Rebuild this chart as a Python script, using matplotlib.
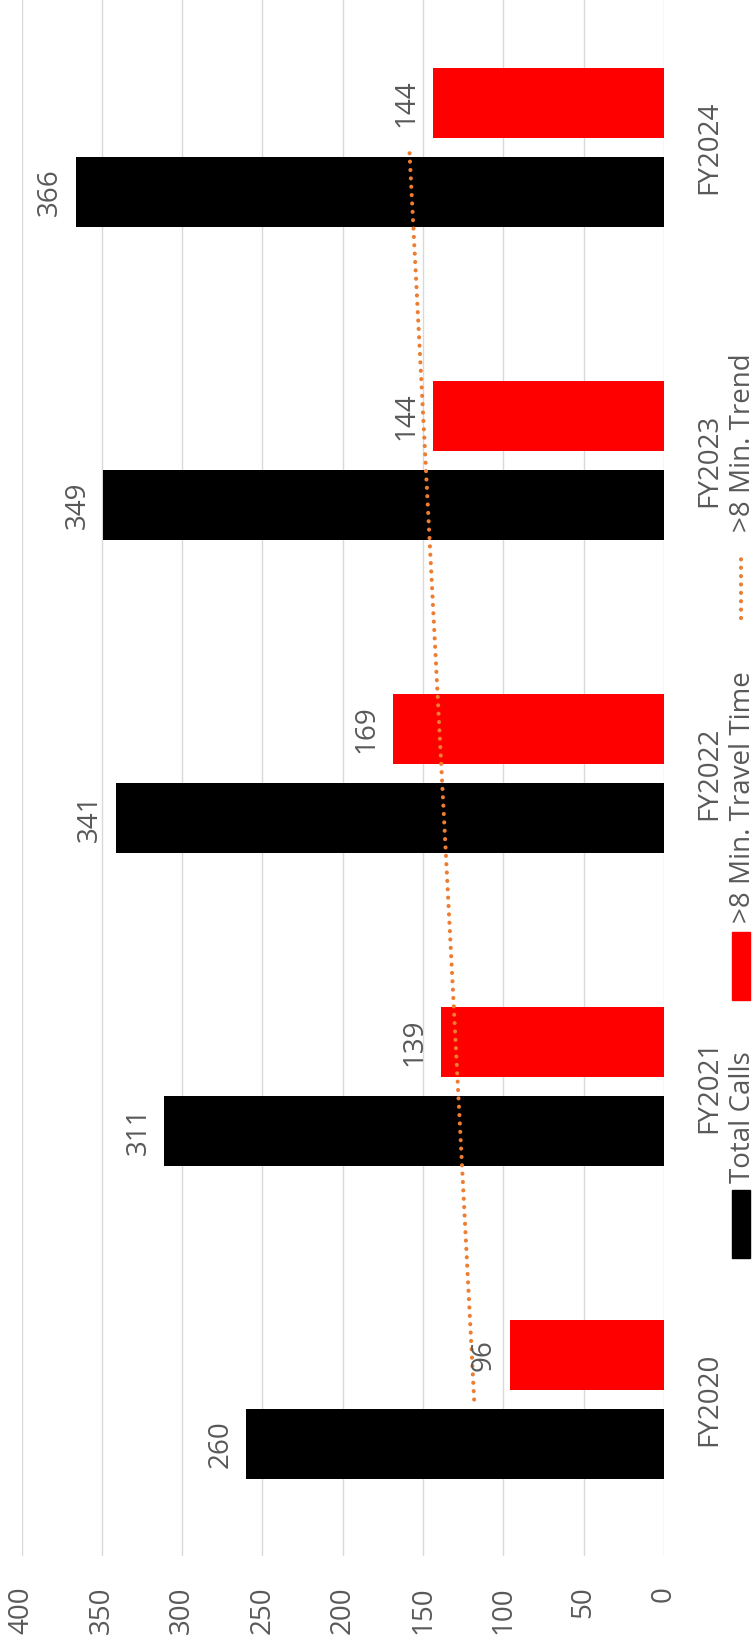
import numpy as np
import matplotlib
matplotlib.use("Agg")
import matplotlib.pyplot as plt
from matplotlib.patches import Rectangle
from matplotlib.lines import Line2D

plt.rcParams['font.family'] = ['Open Sans', 'DejaVu Sans']

# Data
years = ["FY2020", "FY2021", "FY2022", "FY2023", "FY2024"]
total_calls = [260, 311, 341, 349, 366]
over_8_min = [96, 139, 169, 144, 144]
value_ticks = [0, 50, 100, 150, 200, 250, 300, 350, 400]

series_names = ["Total Calls", ">8 Min. Travel Time", ">8 Min. Trend"]
black = "#000000"
red = "#FF0000"
orange = "#ED7D31"
text_gray = "#595959"
grid_gray = "#D9D9D9"
FS = 20
DOTS = (0, (0.01, 2.0))

W, H = 754, 1647
fig = plt.figure(figsize=(W / 100, H / 100), dpi=100)

# plot area in pixels (left, top, right, bottom measured from the top-left)
left_px, right_px, top_px, bottom_px = 21.5, 664, -9, 1556
ax = fig.add_axes([left_px / W, 1 - bottom_px / H,
                   (right_px - left_px) / W, (bottom_px - top_px) / H])

pos = np.arange(len(years))
bar_h = 0.2236
off = 0.142

ax.barh(pos - off, total_calls, height=bar_h, color=black, zorder=2)
ax.barh(pos + off, over_8_min, height=bar_h, color=red, zorder=2)

# linear trend of the >8 min series
coef = np.polyfit(pos, over_8_min, 1)
trend = np.polyval(coef, pos)
ax.plot(trend, pos, color=orange, lw=3.0, linestyle=DOTS,
        dash_capstyle='round', zorder=3)

# value labels beyond the bar ends
for p, v in zip(pos - off, total_calls):
    ax.annotate(str(v), xy=(v, p), xytext=(-19, 0), textcoords='offset pixels',
                rotation=90, rotation_mode='anchor', ha='center', va='baseline',
                fontsize=FS, color=text_gray, zorder=4)
for p, v in zip(pos + off, over_8_min):
    ax.annotate(str(v), xy=(v, p), xytext=(-19, 0), textcoords='offset pixels',
                rotation=90, rotation_mode='anchor', ha='center', va='baseline',
                fontsize=FS, color=text_gray, zorder=4)

ax.set_xlim(400, 0)
ax.set_ylim(-0.5, len(years) - 0.5)

ax.set_xticks(value_ticks)
ax.set_xticklabels([str(t) for t in value_ticks])
ax.tick_params(axis='x', length=0, pad=21.6, labelsize=FS, labelcolor=text_gray)
for lbl in ax.get_xticklabels():
    lbl.set_rotation(90)
    lbl.set_rotation_mode('anchor')
    lbl.set_ha('right')
    lbl.set_va('center')

ax.yaxis.tick_right()
ax.set_yticks(pos)
ax.set_yticklabels(years)
ax.tick_params(axis='y', length=0, pad=37.5, labelsize=FS, labelcolor=text_gray)
for lbl in ax.get_yticklabels():
    lbl.set_rotation(90)
    lbl.set_rotation_mode('anchor')
    lbl.set_ha('center')
    lbl.set_va('baseline')

ax.grid(axis='x', color=grid_gray, lw=1.0, zorder=0)
ax.set_axisbelow(True)
for s in ax.spines.values():
    s.set_visible(False)

# legend drawn along the right edge
def fx(x):
    return x / W

def fy(y):
    return 1 - y / H

legend_base = 750

fig.patches.append(Rectangle((fx(732), fy(1258)), fx(750) - fx(732), (1258 - 1190) / H,
                             transform=fig.transFigure, color=black))
fig.text(fx(legend_base), fy(1183), series_names[0], rotation=90, rotation_mode='anchor',
         ha='left', va='baseline', fontsize=FS, color=text_gray)

fig.patches.append(Rectangle((fx(732), fy(1000)), fx(750) - fx(732), (1000 - 932) / H,
                             transform=fig.transFigure, color=red))
fig.text(fx(legend_base), fy(923), series_names[1], rotation=90, rotation_mode='anchor',
         ha='left', va='baseline', fontsize=FS, color=text_gray)

fig.lines.append(Line2D([fx(741), fx(741)], [fy(618), fy(557)], transform=fig.transFigure,
                        color=orange, lw=3.0, linestyle=DOTS, dash_capstyle='round'))
fig.text(fx(legend_base), fy(532), series_names[2], rotation=90, rotation_mode='anchor',
         ha='left', va='baseline', fontsize=FS, color=text_gray)

fig.savefig("out.png", dpi=100)
